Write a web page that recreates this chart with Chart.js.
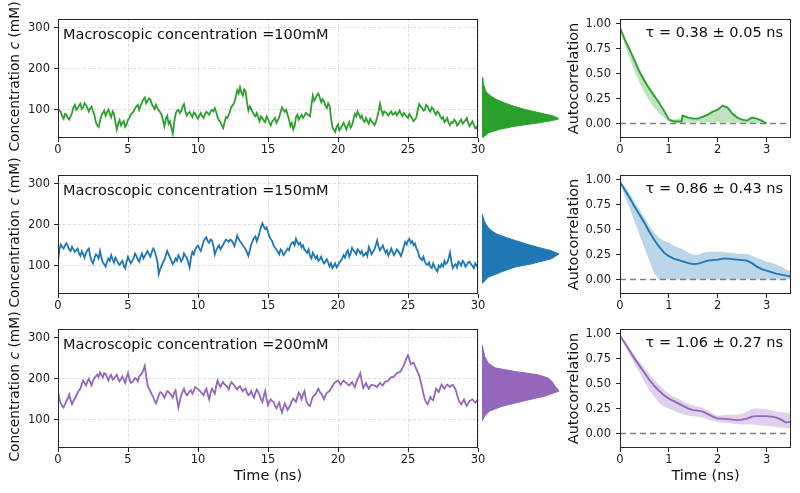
<!DOCTYPE html>
<html><head><meta charset="utf-8">
<script src="https://cdn.jsdelivr.net/npm/chart.js@4"></script>
<style>
html,body{margin:0;padding:0;background:#fff;}
#wrap{position:relative;width:800px;height:493px;overflow:hidden;background:#fff;}
#wrap canvas{position:absolute;}
</style></head><body><div id="wrap"></div>
<script>
// ---------------- DATA ----------------
const timeStep = 0.1; // ns between samples
const conc100 = [102,98,95,84,78,90,88,80,76,84,92,106,112,100,104,110,115,102,106,116,112,104,96,104,108,96,88,70,62,58,72,86,92,98,85,94,100,90,82,96,90,70,52,66,75,62,68,72,58,64,76,80,88,92,96,104,108,112,100,110,118,126,130,116,122,128,125,114,108,102,112,104,98,94,88,74,60,78,85,66,72,56,42,70,90,98,100,92,96,108,114,96,86,92,95,88,82,94,90,84,78,86,92,84,80,90,95,92,88,96,100,96,104,94,82,74,70,62,55,70,82,80,88,98,108,112,118,132,148,140,155,142,135,150,145,118,98,108,102,94,88,84,92,82,72,84,80,74,70,84,78,68,62,72,75,80,68,74,82,94,106,100,95,100,88,76,60,68,52,60,82,88,76,82,88,80,85,92,90,86,84,110,135,122,128,136,140,130,118,126,120,110,104,116,110,80,58,52,46,58,64,50,55,62,68,60,52,62,70,56,62,76,90,84,96,88,80,86,74,70,80,72,66,78,72,68,62,70,82,96,115,100,88,96,94,90,86,92,96,88,90,94,86,92,98,90,84,92,88,84,80,90,84,78,72,76,82,100,114,108,105,98,100,112,108,100,96,106,102,94,88,96,92,84,78,82,70,74,80,68,62,70,68,76,72,62,65,72,76,66,70,74,80,68,60,66,72,64,55,58,50];
const conc150 = [110,140,152,146,142,150,155,148,140,136,146,140,134,138,142,130,124,136,128,120,132,138,142,124,112,106,118,128,125,118,136,120,108,104,98,110,118,112,126,116,108,120,114,106,102,108,112,100,94,110,122,114,106,112,118,130,124,116,110,122,130,118,124,130,136,128,122,134,142,136,124,110,80,92,100,108,114,126,136,128,120,112,104,110,118,112,126,120,110,116,130,124,120,108,96,120,134,128,140,146,150,142,136,148,160,166,170,160,156,164,162,148,128,138,145,150,140,146,152,158,164,162,158,164,162,156,148,160,174,166,160,156,150,146,140,132,124,138,152,160,168,172,160,170,182,194,204,196,190,194,182,172,165,160,150,144,140,134,128,140,136,126,130,136,142,138,150,156,158,150,166,158,152,156,145,150,140,136,132,140,124,118,132,126,118,124,112,116,122,112,106,110,116,108,98,106,94,100,106,96,102,108,112,118,126,120,132,138,122,130,144,138,134,128,140,136,130,136,124,128,132,124,146,138,128,134,140,150,162,146,138,144,150,140,132,138,125,132,142,134,126,132,140,136,130,124,134,146,158,152,162,166,156,160,150,154,142,136,122,118,114,122,110,104,102,108,98,94,106,98,90,86,100,96,104,98,112,104,108,118,132,110,94,100,104,96,110,106,100,112,108,98,102,108,110,104,100,94,106,100,96];
const conc200 = [170,150,140,134,130,138,146,152,162,148,138,146,152,158,166,172,176,188,196,190,184,194,200,192,184,196,202,206,210,204,216,210,204,214,212,204,196,206,210,198,200,206,210,200,194,200,206,198,190,204,214,200,190,192,196,202,200,194,206,210,214,222,232,206,184,176,170,162,156,146,140,150,160,168,166,160,154,162,170,168,164,160,154,166,172,150,130,146,160,168,176,166,160,164,170,172,164,170,180,178,175,172,168,164,160,170,176,162,150,166,176,170,164,182,196,186,180,188,192,186,184,180,174,186,192,188,184,178,174,180,182,176,170,174,176,166,160,164,170,160,154,166,174,168,160,150,144,158,170,150,136,144,150,146,144,134,128,136,142,128,118,130,140,132,124,130,136,146,152,148,144,156,166,160,150,162,170,152,140,136,134,146,156,160,162,170,176,168,164,158,150,160,166,168,170,176,182,188,192,194,196,190,186,192,196,192,190,186,184,188,192,186,180,190,200,206,214,194,178,184,190,182,176,182,186,184,184,182,180,186,190,186,184,190,194,194,196,200,204,204,206,210,214,216,216,220,226,234,242,252,258,248,236,238,240,232,224,216,208,194,180,164,150,142,138,146,156,150,148,162,176,172,168,178,186,180,176,182,186,184,180,184,186,180,174,162,150,142,138,144,150,140,134,140,146,148,150,146,142,146,150];

const timeTicks = [0,5,10,15,20,25,30];
const concTicks = [100,200,300];
const lagTicks = [0,1,2,3];
const acfTicks = [0,0.25,0.5,0.75,1];

// autocorrelation (lag in ns, mean, lower, upper)
const acfLag100  = [0,0.1,0.2,0.3,0.4,0.5,0.6,0.7,0.8,0.9,1.0,1.1,1.2,1.26,1.28,1.4,1.5,1.6,1.7,1.8,1.9,2.0,2.1,2.2,2.3,2.4,2.5,2.6,2.7,2.8,2.9,3.0];
const acfMean100 = [0.96,0.84,0.74,0.63,0.52,0.43,0.35,0.28,0.21,0.13,0.04,0.02,0.02,0.02,0.08,0.06,0.05,0.05,0.07,0.09,0.12,0.14,0.18,0.16,0.10,0.06,0.04,0.03,0.06,0.05,0.03,0.0];
const acfLo100   = [0.95,0.79,0.65,0.52,0.41,0.31,0.23,0.16,0.10,0.06,0.02,0.01,0.01,0.01,0.01,0.01,0.01,0.01,0.01,0.01,0.01,0.01,0.01,0.01,0.01,0.01,0.0,0.0,0.0,0.0,0.0,0.0];
const acfHi100   = [0.97,0.86,0.75,0.64,0.54,0.45,0.37,0.30,0.22,0.14,0.05,0.04,0.05,0.06,0.08,0.06,0.05,0.05,0.07,0.09,0.12,0.14,0.18,0.16,0.10,0.06,0.04,0.03,0.06,0.05,0.03,0.0];

const acfLag150  = [0,0.1,0.2,0.3,0.4,0.5,0.6,0.7,0.8,0.9,1.0,1.1,1.2,1.3,1.4,1.5,1.6,1.7,1.8,1.9,2.0,2.1,2.2,2.3,2.4,2.5,2.6,2.7,2.8,2.9,3.0,3.1,3.2,3.3,3.4,3.5];
const acfMean150 = [0.98,0.90,0.82,0.73,0.65,0.57,0.48,0.40,0.33,0.27,0.235,0.21,0.195,0.18,0.165,0.155,0.16,0.175,0.19,0.195,0.20,0.21,0.21,0.205,0.20,0.195,0.19,0.165,0.13,0.105,0.09,0.075,0.06,0.05,0.04,0.03];
const acfLo150   = [0.97,0.84,0.71,0.58,0.45,0.32,0.19,0.06,0.0,0.0,0.0,0.0,0.0,0.0,0.0,0.0,0.0,0.0,0.0,0.0,0.0,0.0,0.0,0.0,0.0,0.0,0.0,0.0,0.0,0.0,0.0,0.0,0.0,0.0,0.0,0.0];
const acfHi150   = [0.99,0.93,0.86,0.78,0.70,0.62,0.54,0.47,0.42,0.39,0.37,0.34,0.32,0.30,0.27,0.25,0.25,0.27,0.28,0.28,0.28,0.28,0.27,0.27,0.26,0.26,0.26,0.24,0.22,0.20,0.18,0.17,0.15,0.13,0.10,0.08];

const acfLag200  = [0,0.1,0.2,0.3,0.4,0.5,0.6,0.7,0.8,0.9,1.0,1.1,1.2,1.3,1.4,1.5,1.6,1.7,1.8,1.9,2.0,2.1,2.2,2.3,2.4,2.5,2.6,2.7,2.8,2.9,3.0,3.1,3.2,3.3,3.4,3.5];
const acfMean200 = [0.98,0.91,0.83,0.75,0.68,0.61,0.54,0.48,0.43,0.385,0.35,0.325,0.30,0.275,0.25,0.235,0.23,0.22,0.195,0.17,0.15,0.15,0.145,0.14,0.135,0.14,0.15,0.17,0.175,0.175,0.175,0.17,0.16,0.14,0.11,0.12];
const acfLo200   = [0.97,0.88,0.79,0.70,0.61,0.52,0.44,0.37,0.31,0.27,0.25,0.23,0.21,0.195,0.18,0.175,0.17,0.16,0.14,0.125,0.115,0.11,0.105,0.10,0.095,0.09,0.09,0.09,0.085,0.08,0.075,0.07,0.065,0.06,0.055,0.05];
const acfHi200   = [0.99,0.93,0.86,0.79,0.72,0.66,0.60,0.54,0.49,0.44,0.40,0.37,0.35,0.32,0.30,0.28,0.27,0.26,0.23,0.20,0.18,0.185,0.19,0.19,0.19,0.20,0.22,0.25,0.255,0.25,0.245,0.235,0.22,0.215,0.21,0.205];

const zeroLineX = [0,3.5];
const zeroLineY = [0,0];

// concentration distributions (concentration mM, relative density)
const histConc100 = [32,35,44,52,60,68,74,78,84,93,101,109,117,125,133,141,150,162,172,178,181];
const histDens100 = [0.01,0.03,0.09,0.22,0.43,0.74,0.92,1.0,0.94,0.74,0.55,0.41,0.29,0.19,0.12,0.065,0.04,0.022,0.015,0.012,0.0];
const histConc150 = [56,60,72,84,97,105,117,129,137,145,153,162,170,178,186,194,202,210,218,227];
const histDens150 = [0.0,0.02,0.08,0.24,0.43,0.65,0.9,1.0,0.9,0.73,0.58,0.43,0.3,0.19,0.12,0.078,0.05,0.03,0.017,0.0];
const histConc200 = [97,109,121,133,145,158,170,176,182,188,194,202,210,218,227,239,255,271,284];
const histDens200 = [0.0,0.035,0.095,0.26,0.52,0.82,1.0,0.98,0.95,0.93,0.91,0.86,0.73,0.43,0.17,0.08,0.035,0.017,0.0];

const panelLabels = ['Macroscopic concentration =100mM','Macroscopic concentration =150mM','Macroscopic concentration =200mM'];
const tauLabels = ['\u03c4 = 0.38 \u00b1 0.05 ns','\u03c4 = 0.86 \u00b1 0.43 ns','\u03c4 = 1.06 \u00b1 0.27 ns'];
const concLabelParts = [{text: 'Concentration '}, {text: 'c', italic: true}, {text: ' (mM)'}];
const seriesColors = ['#2ca02c','#1f77b4','#9467bd'];
const bandColors = ['rgba(44,160,44,0.3)','rgba(31,119,180,0.3)','rgba(148,103,189,0.3)'];

// ---------------- LAYOUT ----------------
const rowTops = [19, 175, 329];
const plotH = 119;
const padTop = 40;
const FONT = "'DejaVu Sans', sans-serif";
Chart.defaults.font.family = FONT;
Chart.defaults.font.size = 11.5;
Chart.defaults.color = '#1a1a1a';
Chart.defaults.animation = false;

const framePlugin = {
  id: 'frame',
  afterDraw(chart, args, opts) {
    if (!opts || !opts.show) return;
    const {ctx, chartArea: a} = chart;
    ctx.save();
    ctx.strokeStyle = '#262626';
    ctx.lineWidth = 1;
    ctx.strokeRect(Math.round(a.left) + 0.5, Math.round(a.top) + 0.5, Math.round(a.right - a.left) - 1, Math.round(a.bottom - a.top) - 1);
    ctx.restore();
  }
};
const annotPlugin = {
  id: 'annot',
  afterDraw(chart, args, opts) {
    if (!opts || !opts.text) return;
    const {ctx, chartArea: a} = chart;
    ctx.save();
    ctx.font = '14.5px ' + FONT;
    ctx.fillStyle = '#111';
    ctx.textBaseline = 'middle';
    ctx.textAlign = opts.align;
    const x = opts.align === 'left' ? a.left + opts.dx : a.right - opts.dx;
    ctx.fillText(opts.text, x, a.top + opts.dy);
    ctx.restore();
  }
};
// vertical axis label with mixed upright / italic parts
const ylabPlugin = {
  id: 'ylab',
  afterDraw(chart, args, opts) {
    if (!opts || !opts.parts) return;
    const {ctx, chartArea: a} = chart;
    ctx.save();
    ctx.translate(opts.x, (a.top + a.bottom) / 2 + opts.dy);
    ctx.rotate(-Math.PI / 2);
    ctx.textBaseline = 'middle';
    ctx.textAlign = 'left';
    ctx.fillStyle = '#111';
    const fonts = opts.parts.map(p => (p.italic ? 'italic ' : '') + opts.size + 'px ' + FONT);
    let total = 0;
    opts.parts.forEach((p, k) => { ctx.font = fonts[k]; total += ctx.measureText(p.text).width; });
    let x = -total / 2;
    opts.parts.forEach((p, k) => { ctx.font = fonts[k]; ctx.fillText(p.text, x, 0); x += ctx.measureText(p.text).width; });
    ctx.restore();
  }
};
Chart.register(framePlugin, annotPlugin, ylabPlugin);

const wrap = document.getElementById('wrap');
function mkCanvas(x, y, w, h) {
  const c = document.createElement('canvas');
  c.width = w; c.height = h;
  c.style.left = x + 'px'; c.style.top = y + 'px';
  c.style.width = w + 'px'; c.style.height = h + 'px';
  wrap.appendChild(c);
  return c;
}
function gridOpts(onArea) {
  return {color: '#d6d6d6', lineWidth: 0.8, drawOnChartArea: onArea, tickLength: 4, tickColor: '#262626', tickWidth: 1};
}
const basePlugins = {legend: {display: false}, tooltip: {enabled: false}};

const concSeries = [conc100, conc150, conc200];
const acfSets = [
  [acfLag100, acfMean100, acfLo100, acfHi100],
  [acfLag150, acfMean150, acfLo150, acfHi150],
  [acfLag200, acfMean200, acfLo200, acfHi200]
];
const histSets = [[histConc100, histDens100],[histConc150, histDens150],[histConc200, histDens200]];

for (let r = 0; r < 3; r++) {
  const last = r === 2;
  const xH = last ? 40 : 20;
  const cH = padTop + plotH + xH;
  const vals = concSeries[r];
  const times = vals.map((_, i) => +(i * timeStep).toFixed(1));

  // ---- time series ----
  new Chart(mkCanvas(0, rowTops[r] - padTop, 488, cH), {
    type: 'line',
    data: {labels: times, datasets: [{data: vals, borderColor: seriesColors[r], borderWidth: 1.8, pointRadius: 0, tension: 0}]},
    options: {
      responsive: false,
      layout: {padding: {top: padTop, right: 10, left: 0, bottom: 0}},
      plugins: Object.assign({}, basePlugins, {
        frame: {show: true},
        annot: {text: panelLabels[r], align: 'left', dx: 5, dy: 16.5},
        ylab: {parts: concLabelParts, size: 13.8, x: 15.5, dy: -2}
      }),
      scales: {
        x: {type: 'linear', min: 0, max: 30,
            afterBuildTicks: s => { s.ticks = timeTicks.map(v => ({value: v})); },
            afterFit: s => { s.height = xH; },
            grid: gridOpts(true), border: {display: false, dash: [3, 2]},
            ticks: {padding: 1, maxRotation: 0, autoSkip: false},
            title: {display: last, text: 'Time (ns)', font: {size: 14.5}, color: '#111', padding: {top: 0, bottom: 3}}},
        y: {type: 'linear', min: 31, max: 322,
            afterBuildTicks: s => { s.ticks = concTicks.map(v => ({value: v})); },
            afterFit: s => { s.width = 58; },
            grid: gridOpts(true), border: {display: false, dash: [3, 2]},
            ticks: {padding: 4}}
      }
    }
  });

  // ---- distribution ----
  const [hc, hd] = histSets[r];
  new Chart(mkCanvas(482, rowTops[r], 80, plotH), {
    type: 'line',
    data: {datasets: [{data: hc.map((c, j) => ({x: hd[j], y: c})), borderColor: seriesColors[r], backgroundColor: seriesColors[r], borderWidth: 1, fill: 'origin', pointRadius: 0, tension: 0}]},
    options: {
      indexAxis: 'y', responsive: false,
      layout: {padding: 0},
      plugins: Object.assign({}, basePlugins),
      scales: {
        x: {type: 'linear', display: false, min: 0, max: 1.04},
        y: {type: 'linear', display: false, min: 31, max: 322}
      }
    }
  });

  // ---- autocorrelation ----
  const [lag, mean, lo, hi] = acfSets[r];
  const pts = arr => lag.map((x, j) => ({x, y: arr[j]}));
  new Chart(mkCanvas(560, rowTops[r] - padTop, 240, cH), {
    type: 'line',
    data: {datasets: [
      {data: pts(mean), borderColor: seriesColors[r], borderWidth: 1.9, pointRadius: 0, tension: 0, fill: false},
      {data: zeroLineX.map((x, j) => ({x, y: zeroLineY[j]})), borderColor: '#808080', borderWidth: 1.5, borderDash: [6, 4], pointRadius: 0, fill: false},
      {data: pts(hi), borderWidth: 0, borderColor: 'rgba(0,0,0,0)', backgroundColor: bandColors[r], pointRadius: 0, tension: 0, fill: '+1'},
      {data: pts(lo), borderWidth: 0, borderColor: 'rgba(0,0,0,0)', pointRadius: 0, tension: 0, fill: false}
    ]},
    options: {
      responsive: false,
      layout: {padding: {top: padTop, right: 9, left: 0, bottom: 0}},
      plugins: Object.assign({}, basePlugins, {frame: {show: true}, annot: {text: tauLabels[r], align: 'right', dx: 8, dy: 14}}),
      scales: {
        x: {type: 'linear', min: 0, max: 3.5,
            afterBuildTicks: s => { s.ticks = lagTicks.map(v => ({value: v})); },
            afterFit: s => { s.height = xH; },
            grid: gridOpts(false), border: {display: false},
            ticks: {padding: 1, maxRotation: 0, autoSkip: false},
            title: {display: last, text: 'Time (ns)', font: {size: 14.5}, color: '#111', padding: {top: 0, bottom: 3}}},
        y: {type: 'linear', min: -0.145, max: 1.05,
            afterBuildTicks: s => { s.ticks = acfTicks.map(v => ({value: v})); },
            afterFit: s => { s.width = 60; },
            grid: gridOpts(false), border: {display: false},
            ticks: {padding: 5, callback: v => Number(v).toFixed(2)},
            title: {display: true, text: 'Autocorrelation', font: {size: 14.5}, color: '#111', padding: {top: 6, bottom: 0}}}
      }
    }
  });
}
</script></body></html>
